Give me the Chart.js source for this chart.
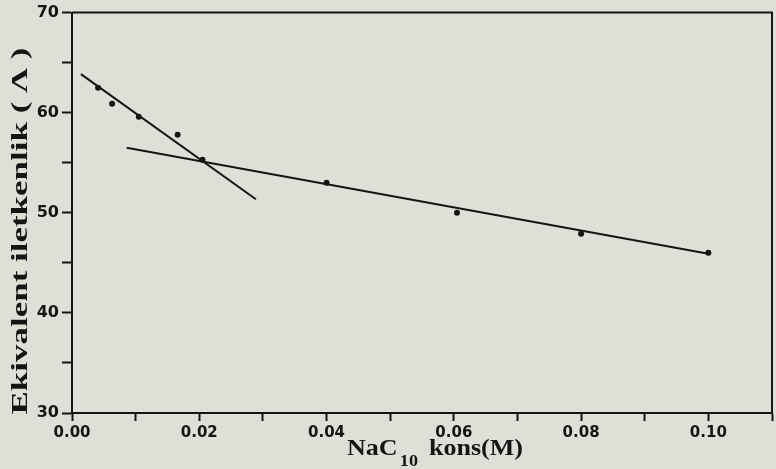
<!DOCTYPE html>
<html>
<head>
<meta charset="utf-8">
<script src="https://cdn.jsdelivr.net/npm/chart.js@4/dist/chart.umd.min.js"></script>
<style>
  html, body { margin: 0; padding: 0; background: #dee0d8; }
  #wrap { width: 776px; height: 469px; position: relative; }
</style>
</head>
<body>
<div id="wrap"><canvas id="c"></canvas></div>
<script>
// ---- data ----
const concentration = [0.0041, 0.0063, 0.0105, 0.0166, 0.0205, 0.0400, 0.0605, 0.0800, 0.1000];
const conductivity  = [62.5, 60.9, 59.6, 57.8, 55.3, 53.0, 50.0, 47.9, 46.0];

const fitLine1X = [0.0014, 0.0289];
const fitLine1Y = [63.85, 51.35];
const fitLine2X = [0.0086, 0.1000];
const fitLine2Y = [56.5, 45.9];

const xTickValues = [0, 0.01, 0.02, 0.03, 0.04, 0.05, 0.06, 0.07, 0.08, 0.09, 0.10, 0.11];
const xTickLabels = ['0.00', '', '0.02', '', '0.04', '', '0.06', '', '0.08', '', '0.10', ''];
const yTickValues = [30, 35, 40, 45, 50, 55, 60, 65, 70];
const yTickLabels = ['30', '', '40', '', '50', '', '60', '', '70'];

const yTitle = 'Ekivalent iletkenlik ( Λ )';
const xTitleMain = 'NaC';
const xTitleSub = '10';
const xTitleRest = ' kons(M)';

const ink = '#151515';

const pts = concentration.map((x, i) => ({ x, y: conductivity[i] }));
const l1 = fitLine1X.map((x, i) => ({ x, y: fitLine1Y[i] }));
const l2 = fitLine2X.map((x, i) => ({ x, y: fitLine2Y[i] }));

const framePlugin = {
  id: 'frame',
  afterDraw(chart) {
    const { ctx, chartArea: a } = chart;
    ctx.save();
    ctx.strokeStyle = ink;
    ctx.lineWidth = 2;
    ctx.beginPath();
    ctx.moveTo(a.left, a.top);
    ctx.lineTo(a.right, a.top);
    ctx.lineTo(a.right, a.bottom);
    ctx.stroke();

    // Y title (rotated)
    ctx.fillStyle = ink;
    ctx.font = 'bold 24px "Liberation Serif"';
    ctx.textBaseline = 'middle';
    ctx.textAlign = 'center';
    const w = ctx.measureText(yTitle).width;
    const target = 367;
    ctx.translate(21, 231);
    ctx.rotate(-Math.PI / 2);
    ctx.scale(target / w, 1);
    ctx.fillText(yTitle, 0, 0);
    ctx.restore();

    // X title with subscript
    ctx.save();
    ctx.fillStyle = ink;
    ctx.textBaseline = 'alphabetic';
    ctx.textAlign = 'left';
    const fMain = 'bold 23px "Liberation Serif"';
    const fSub = 'bold 16px "Liberation Serif"';
    ctx.font = fMain;
    const wMain = ctx.measureText(xTitleMain).width;
    const wRest = ctx.measureText(xTitleRest).width;
    ctx.font = fSub;
    const wSub = ctx.measureText(xTitleSub).width;
    const total = wMain + wSub + 6 + wRest;
    const sx = 176 / total;
    ctx.translate(347, 455);
    ctx.scale(sx, 1);
    ctx.font = fMain;
    ctx.fillText(xTitleMain, 0, 0);
    ctx.font = fSub;
    ctx.fillText(xTitleSub, wMain + 2, 11);
    ctx.font = fMain;
    ctx.fillText(xTitleRest, wMain + wSub + 6, 0);
    ctx.restore();
  }
};

new Chart(document.getElementById('c'), {
  type: 'scatter',
  data: {
    datasets: [
      { data: pts, showLine: false, pointRadius: 3, pointBackgroundColor: ink, pointBorderColor: ink, pointBorderWidth: 0 },
      { data: l1, showLine: true, borderColor: ink, borderWidth: 2, pointRadius: 0, fill: false },
      { data: l2, showLine: true, borderColor: ink, borderWidth: 2, pointRadius: 0, fill: false }
    ]
  },
  options: {
    responsive: true,
    maintainAspectRatio: false,
    animation: false,
    layout: { padding: { top: 10, right: 2, left: 0, bottom: 0 } },
    plugins: { legend: { display: false }, tooltip: { enabled: false } },
    scales: {
      x: {
        type: 'linear', min: 0, max: 0.11,
        afterBuildTicks: s => { s.ticks = xTickValues.map(v => ({ value: v })); },
        afterFit: s => { s.height = 56; },
        grid: { drawOnChartArea: false, drawTicks: true, tickLength: 8, tickWidth: 2, color: ink },
        border: { display: true, color: ink, width: 2 },
        ticks: {
          autoSkip: false, maxRotation: 0, padding: 3, color: ink,
          font: { family: '"DejaVu Sans"', weight: 'bold', size: 15 },
          callback: (v, i) => xTickLabels[i]
        }
      },
      y: {
        type: 'linear', min: 30, max: 70,
        afterBuildTicks: s => { s.ticks = yTickValues.map(v => ({ value: v })); },
        afterFit: s => { s.width = 72; },
        grid: { drawOnChartArea: false, drawTicks: true, tickLength: 10, tickWidth: 2, color: ink },
        border: { display: true, color: ink, width: 2 },
        ticks: {
          autoSkip: false, padding: 3, color: ink,
          font: { family: '"DejaVu Sans"', weight: 'bold', size: 16 },
          callback: (v, i) => yTickLabels[i]
        }
      }
    }
  },
  plugins: [framePlugin]
});
</script>
</body>
</html>
